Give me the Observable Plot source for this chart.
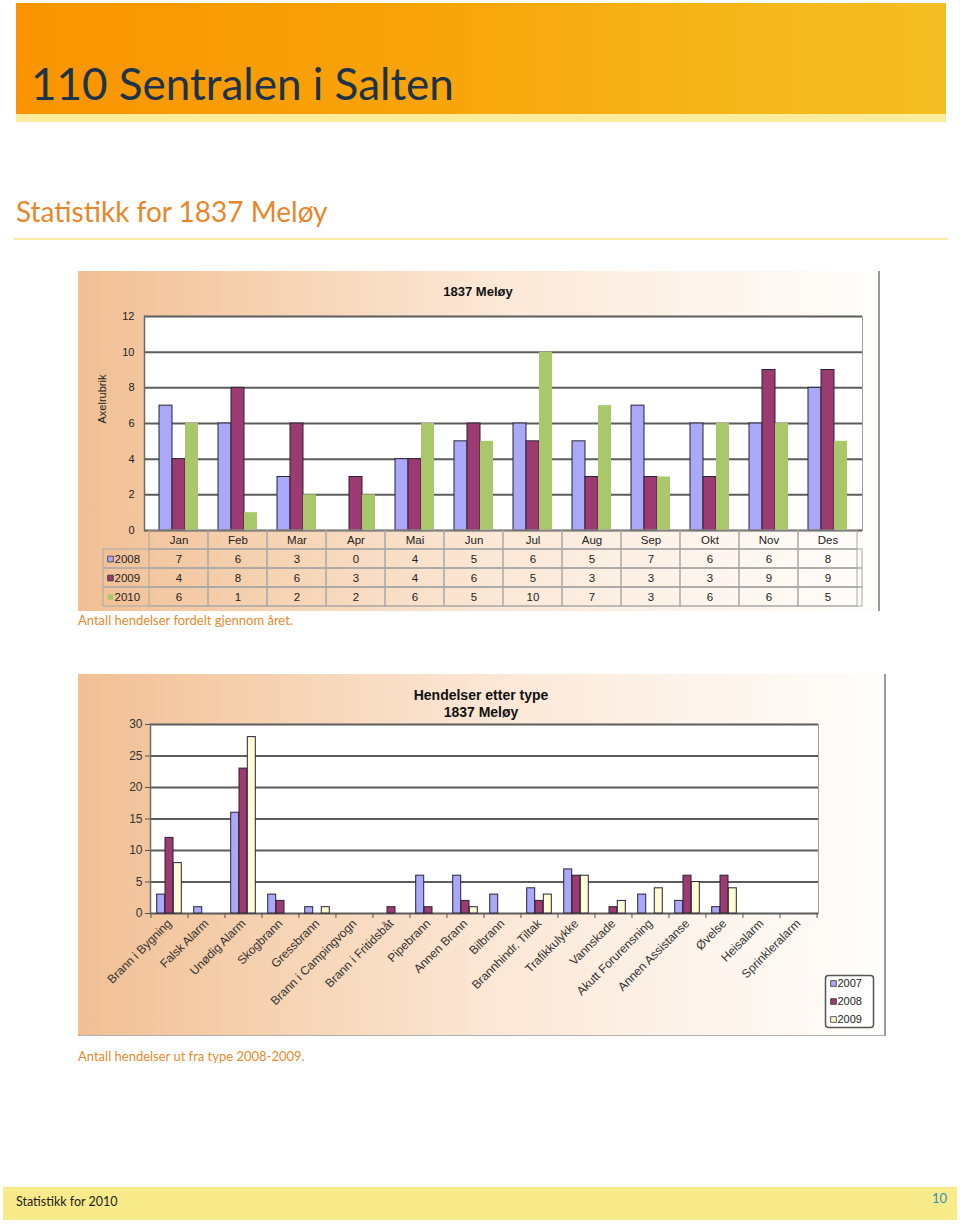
<!DOCTYPE html>
<html>
<head>
<meta charset="utf-8">
<script src="https://cdn.jsdelivr.net/npm/d3@7"></script>
<script src="https://cdn.jsdelivr.net/npm/@observablehq/plot@0.6"></script>
<style>
  html, body { margin: 0; padding: 0; }
  body { width: 960px; height: 1225px; position: relative; background: #fff; overflow: hidden; font-family: Lato, "Open Sans", sans-serif; }
  .abs { position: absolute; }
  #header { left: 16px; top: 3px; width: 930px; height: 111px; background: linear-gradient(90deg, #f99400 0%, #f8a40a 45%, #f5b81c 80%, #f4be22 100%); }
  #strip { left: 16px; top: 114px; width: 930px; height: 8px; background: #fcec9c; }
  #title { left: 31px; top: 61px; font-size: 44px; line-height: 1; color: #1c3349; white-space: nowrap; }
  #subtitle { left: 16px; top: 197px; font-size: 28px; line-height: 1; color: #e8862a; white-space: nowrap; }
  #subline { left: 14px; top: 238px; width: 934px; height: 2px; background: #fbe9a6; }
  .chartbox { background: linear-gradient(90deg, #f1bf94 0%, #f6d3b3 25%, #fbe6d4 50%, #fdf3ea 75%, #fffdfb 100%); }
  #chart1 { left: 78px; top: 271px; width: 800px; height: 340px; border-right: 2px solid #9a9a9a; }
  #chart2 { left: 78px; top: 674px; width: 806px; height: 361px; border-right: 2px solid #9a9a9a; border-bottom: 1px solid #b0b0b0; }
  .ctitle { font-family: "Liberation Sans", Arial, sans-serif; font-weight: bold; color: #111; text-align: center; white-space: nowrap; }
  .caption { font-size: 13px; line-height: 1; color: #e38b2e; white-space: nowrap; }
  #footer { left: 3px; top: 1187px; width: 954px; height: 33px; background: #f9ea8a; }
  #foottext { left: 16px; top: 1196px; font-size: 12.5px; line-height: 1; color: #222; white-space: nowrap; }
  #pageno { left: 932px; top: 1192px; font-size: 13px; line-height: 1; color: #3a8fb5; }
</style>
</head>
<body>
<div id="header" class="abs"></div>
<div id="strip" class="abs"></div>
<div id="title" class="abs">110 Sentralen i Salten</div>
<div id="subtitle" class="abs">Statistikk for 1837 Meløy</div>
<div id="subline" class="abs"></div>

<div id="chart1" class="abs chartbox">
  <div class="abs ctitle" style="left:0;width:800px;top:13px;font-size:13px;line-height:15px;">1837 Meløy</div>
  <div id="plot1" class="abs" style="left:0;top:0;"></div>
  <div id="table1" class="abs" style="left:25px;top:259px;"></div>
</div>
<div id="cap1" class="abs caption" style="left:78px;top:614px;">Antall hendelser fordelt gjennom året.</div>

<div id="chart2" class="abs chartbox">
  <div class="abs ctitle" style="left:0;width:806px;top:13px;font-size:14px;line-height:17px;">Hendelser etter type<br>1837 Meløy</div>
  <div id="plot2" class="abs" style="left:0;top:0;"></div>
  <div id="legend2" class="abs" style="left:746px;top:300px;"></div>
</div>
<div id="cap2" class="abs caption" style="left:78px;top:1050px;">Antall hendelser ut fra type 2008-2009.</div>

<div id="footer" class="abs"></div>
<div id="foottext" class="abs">Statistikk for 2010</div>
<div id="pageno" class="abs">10</div>

<script>
// ---------- Chart 1 data: events per month ----------
const months = ["Jan", "Feb", "Mar", "Apr", "Mai", "Jun", "Jul", "Aug", "Sep", "Okt", "Nov", "Des"];
const years1 = ["2008", "2009", "2010"];
const v2008 = [7, 6, 3, 0, 4, 5, 6, 5, 7, 6, 6, 8];
const v2009 = [4, 8, 6, 3, 4, 6, 5, 3, 3, 3, 9, 9];
const v2010 = [6, 1, 2, 2, 6, 5, 10, 7, 3, 6, 6, 5];
const yTicks1 = [0, 2, 4, 6, 8, 10, 12];

// ---------- Chart 2 data: events per type ----------
const types = ["Brann i Bygning", "Falsk Alarm", "Unødig Alarm", "Skogbrann", "Gressbrann",
  "Brann i Campingvogn", "Brann i Fritidsbåt", "Pipebrann", "Annen Brann", "Bilbrann",
  "Brannhindr. Tiltak", "Trafikkulykke", "Vannskade", "Akutt Forurensning",
  "Annen Assistanse", "Øvelse", "Heisalarm", "Sprinkleralarm"];
const years2 = ["2007", "2008", "2009"];
const t2007 = [3, 1, 16, 3, 1, 0, 0, 6, 6, 3, 4, 7, 0, 3, 2, 1, 0, 0];
const t2008 = [12, 0, 23, 2, 0, 0, 1, 1, 2, 0, 2, 6, 1, 0, 6, 6, 0, 0];
const t2009 = [8, 0, 28, 0, 1, 0, 0, 0, 1, 0, 3, 6, 2, 4, 5, 4, 0, 0];
const yTicks2 = [0, 5, 10, 15, 20, 25, 30];

// ---------- styles ----------
const colLav = "#aaa8f8", colMar = "#9c3a72", colGreen = "#a8c86a", colCream = "#fdfcd2";
const colors1 = [colLav, colMar, colGreen];
const colors2 = [colLav, colMar, colCream];
const gridCol = "#5c5c5c";
const chartFont = "'Liberation Sans', Arial, sans-serif";

// ---------- Chart 1 ----------
const series1 = [v2008, v2009, v2010];
const rows1 = months.flatMap((m, i) => years1.map((s, k) => ({m, s, v: series1[k][i]})));
const W1 = 800, H1 = 340, ML1 = 66, MR1 = 16, MT1 = 45, MB1 = 81;
const step1 = (W1 - ML1 - MR1) / months.length;
const bw1 = 13;
const pad1 = 1 - bw1 / step1;

const barMarks1 = years1.map((s, k) => Plot.barY(rows1.filter(d => d.s === s && d.v > 0), {
  x: "m", y: "v", fill: colors1[k], dx: (k - 1) * bw1,
  stroke: k < 2 ? "#2b2233" : "none", strokeWidth: 1
}));

const plot1 = Plot.plot({
  width: W1, height: H1,
  marginLeft: ML1, marginRight: MR1, marginTop: MT1, marginBottom: MB1,
  style: {background: "transparent", fontFamily: chartFont, fontSize: "11px", color: "#222", overflow: "visible"},
  x: {domain: months, paddingInner: pad1, paddingOuter: pad1 / 2, axis: null},
  y: {domain: [0, 12], axis: null},
  marks: [
    Plot.frame({fill: "white", stroke: "#a0a0a0"}),
    Plot.ruleY(yTicks1, {stroke: gridCol, strokeWidth: 2}),
    ...barMarks1,
    Plot.axisY({ticks: yTicks1, tickSize: 0, tickPadding: 10, label: null, fontSize: 11}),
    Plot.frame({anchor: "left", stroke: "#6a6a6a", strokeWidth: 1.5}),
    Plot.text(["Axelrubrik"], {frameAnchor: "left", rotate: -90, dx: -42, fontSize: 11, fill: "#222"})
  ]
});
document.getElementById("plot1").append(plot1);

// Data table under chart 1
const tableY = ["mon", ...years1];
const table1 = Plot.plot({
  width: W1 - MR1 - 25, height: 76,
  marginLeft: 0, marginRight: 0, marginTop: 0, marginBottom: 0,
  style: {background: "transparent", fontFamily: chartFont, fontSize: "11px", color: "#222", overflow: "visible"},
  x: {domain: months, range: [ML1 - 25, W1 - MR1 - 25], padding: 0, axis: null},
  y: {domain: tableY, padding: 0, axis: null},
  marks: [
    Plot.cell(years1, {y: d => d, fill: "none", stroke: "#a8a8a8"}),
    Plot.cell(months, {x: d => d, y: () => "mon", fill: "none", stroke: "#a8a8a8"}),
    Plot.cell(rows1, {x: "m", y: "s", fill: "none", stroke: "#a8a8a8"}),
    Plot.text(months, {x: d => d, y: () => "mon", text: d => d, fontSize: 11.5, fill: "#222"}),
    Plot.text(rows1, {x: "m", y: "s", text: "v", fontSize: 11.5, fill: "#222"}),
    Plot.dot(years1, {y: d => d, frameAnchor: "left", dx: 7, symbol: "square", r: 3.2,
      fill: (d, i) => colors1[i], stroke: (d, i) => i < 2 ? "#333" : "none", strokeWidth: 0.8}),
    Plot.text(years1, {y: d => d, frameAnchor: "left", dx: 11, textAnchor: "start", text: d => d, fontSize: 11.5, fill: "#222"})
  ]
});
document.getElementById("table1").append(table1);

// ---------- Chart 2 ----------
const series2 = [t2007, t2008, t2009];
const rows2 = types.flatMap((t, i) => years2.map((s, k) => ({t, s, v: series2[k][i]})));
const W2 = 806, H2 = 361, ML2 = 72, MR2 = 66, MT2 = 50, MB2 = 122;
const step2 = (W2 - ML2 - MR2) / types.length;
const bw2 = 8.3;
const pad2 = 1 - bw2 / step2;

const barMarks2 = years2.map((s, k) => Plot.barY(rows2.filter(d => d.s === s && d.v > 0), {
  x: "t", y: "v", fill: colors2[k], dx: (k - 1) * bw2, stroke: "#2b2233", strokeWidth: 1
}));

const plot2 = Plot.plot({
  width: W2, height: H2,
  marginLeft: ML2, marginRight: MR2, marginTop: MT2, marginBottom: MB2,
  style: {background: "transparent", fontFamily: chartFont, fontSize: "12px", color: "#333", overflow: "visible"},
  x: {domain: types, paddingInner: pad2, paddingOuter: pad2 / 2, axis: null},
  y: {domain: [0, 30], axis: null},
  marks: [
    Plot.frame({fill: "white", stroke: "#a0a0a0"}),
    Plot.ruleY(yTicks2, {stroke: gridCol, strokeWidth: 2}),
    Plot.frame({anchor: "left", stroke: "#6a6a6a", strokeWidth: 1.5}),
    ...barMarks2,
    Plot.ruleX(types, {x: d => d, dx: -step2 / 2, y1: 0, y2: 0, insetBottom: -5, stroke: "#555"}),
    Plot.ruleX(types.slice(-1), {x: d => d, dx: step2 / 2, y1: 0, y2: 0, insetBottom: -5, stroke: "#555"}),
    Plot.axisY({ticks: yTicks2, tickSize: 5, tickPadding: 3, label: null, fontSize: 12, stroke: "#555"}),
    Plot.axisX({tickRotate: -45, tickSize: 0, tickPadding: 8, label: null, fontSize: 12, fill: "#333"})
  ]
});
document.getElementById("plot2").append(plot2);

// Legend for chart 2
const legend2 = Plot.plot({
  width: 50, height: 54,
  marginLeft: 0, marginRight: 0, marginTop: 0, marginBottom: 0,
  style: {background: "transparent", fontFamily: chartFont, fontSize: "11px", color: "#222", overflow: "visible"},
  x: {axis: null},
  y: {domain: years2, paddingOuter: 0.15, paddingInner: 0, axis: null},
  marks: [
    Plot.frame({fill: "white", stroke: "#555", strokeWidth: 1.5, rx: 3, inset: 1}),
    Plot.dot(years2, {y: d => d, frameAnchor: "left", dx: 9, symbol: "square", r: 3.2,
      fill: (d, i) => colors2[i], stroke: "#333", strokeWidth: 0.8}),
    Plot.text(years2, {y: d => d, frameAnchor: "left", dx: 13, textAnchor: "start", text: d => d, fontSize: 11, fill: "#222"})
  ]
});
document.getElementById("legend2").append(legend2);
</script>
</body>
</html>
